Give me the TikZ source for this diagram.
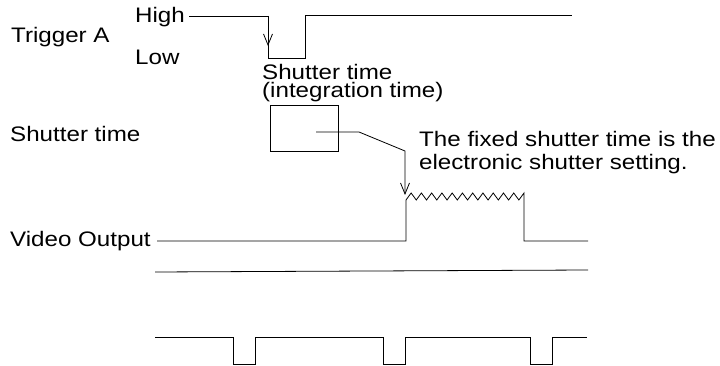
\documentclass[tikz,border=0pt]{standalone}
\usepackage{fontspec}
\setmainfont{Liberation Sans}[FakeStretch=1.15]
\usetikzlibrary{arrows.meta}
\begin{document}
\begin{tikzpicture}[x=1pt,y=-1pt,
  lbl/.style={anchor=base west,inner sep=0pt,font=\fontsize{21}{23}\selectfont},
  wave/.style={line width=0.8pt,line join=miter},
  barb/.style={line width=0.8pt,-{Straight Barb[length=11pt,width=9pt,line width=0.8pt]}}]
\useasboundingbox (0,0) rectangle (720,366);
% labels
\node[lbl] (trig) at (11,43) {Trigger A};
\node[lbl] (high) at (135,23) {High};
\node[lbl] (low) at (135,65) {Low};
\node[lbl,align=left,font=\fontsize{21}{18.5}\selectfont] (sh) at (262,98) {Shutter time\\(integration time)};
\node[lbl] (shl) at (10,142) {Shutter time};
\node[lbl] (fx1) at (419,147) {The fixed shutter time is the};
\node[lbl] (fx2) at (419,170) {electronic shutter setting.};
\node[lbl] (vid) at (10,247) {Video Output};
% trigger A waveform
\coordinate (t0) at (189,16);
\coordinate (t1) at (268,16);
\coordinate (ta) at (268,46);
\coordinate (t2) at (268,58);
\coordinate (t3) at (305,58);
\coordinate (t4) at (305,15);
\coordinate (t5) at (572,15);
\draw[wave] (t0) -- (t1) -- (t2) -- (t3) -- (t4) -- (t5);
\draw[barb] (t1) -- (ta);
% shutter time box
\node[draw,line width=0.8pt,minimum width=68pt,minimum height=46pt,inner sep=0pt] (box) at (304,128) {};
\coordinate (c0) at (316,132);
\coordinate (c1) at (359,132);
\coordinate (c2) at (405,151);
\coordinate (c3) at (405,195);
\draw[barb] (c0) -- (c1) -- (c2) -- (c3);
% video output
\coordinate (v0) at (157,241);
\coordinate (v1) at (406,241);
\coordinate (v2) at (406,200);
\coordinate (v3) at (524,193);
\coordinate (v4) at (524,241);
\coordinate (v5) at (588,241);
\draw[wave] (v0) -- (v1) -- (v2)
  \foreach \i in {1,...,11} { -- ++(5.13,-7) -- ++(5.13,7) } -- (v3) -- (v4) -- (v5);
% second line
\coordinate (s0) at (155,272);
\coordinate (s1) at (588,270);
\draw[wave] (s0) -- (s1);
% bottom pulse train
\draw[wave] (155,337) -- (233,337) -- (233,364) -- (255,364) -- (255,337)
  -- (383,337) -- (383,364) -- (405,364) -- (405,337)
  -- (530,337) -- (530,364) -- (552,364) -- (552,337) -- (587,337);
\end{tikzpicture}
\end{document}
